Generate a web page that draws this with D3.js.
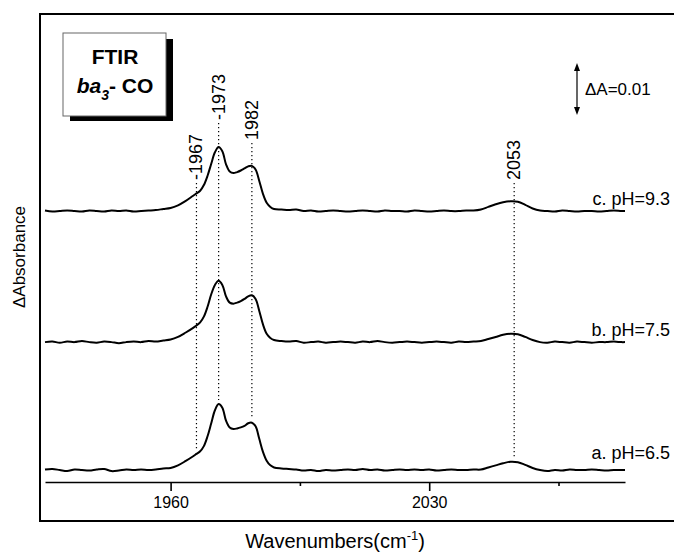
<!DOCTYPE html>
<html><head><meta charset="utf-8">
<script src="https://cdn.jsdelivr.net/npm/d3@7"></script>
<style>body{margin:0;background:#fff}svg{display:block}text{font-family:"Liberation Sans",Arial,sans-serif;fill:#000}</style>
</head><body><svg id="c" width="674" height="553"></svg>
<script>
// ---- data ----
const wavenumbers = [1926,1928,1930,1932,1934,1936,1938,1940,1942,1944,1946,1948,1950,1952,1954,1956,1958,1960,1962,1964,1966,1967,1968,1969,1970,1971,1972,1973,1974,1975,1976,1977,1978,1979,1980,1981,1982,1983,1984,1985,1986,1987,1988,1990,1992,1994,1996,1998,2000,2002,2004,2006,2008,2010,2012,2014,2016,2018,2020,2022,2024,2026,2028,2030,2032,2034,2036,2038,2040,2042,2044,2046,2048,2050,2052,2054,2056,2058,2060,2062,2064,2066,2068,2070,2072,2074,2076,2078,2080,2082,2083];
// absorbance change (x0.001) relative to each trace's baseline
const specA = [0.1,0.2,0.0,-0.2,0.1,0.0,-0.1,0.1,0.2,-0.2,-0.1,0.1,0.0,0.1,0.0,0.1,0.3,0.4,0.9,1.7,2.6,3.1,3.6,4.6,6.5,9.0,11.5,12.7,12.0,9.5,8.2,7.9,8.0,8.2,8.5,9.0,9.1,8.4,6.0,3.5,1.8,0.9,0.5,0.3,0.2,0.1,-0.1,0.0,-0.2,0.0,-0.1,0.0,0.1,0.0,0.2,0.0,0.1,-0.1,0.0,0.1,0.0,0.1,0.0,0.1,-0.1,0.0,0.1,0.0,0.0,0.1,0.1,0.5,0.9,1.3,1.6,1.5,1.0,0.4,0.0,-0.2,0.0,-0.1,0.1,0.0,0.0,0.1,0.0,-0.1,0.0,0.0,0.0];
const specB = [0.0,0.1,-0.1,0.1,0.0,0.2,0.0,-0.1,0.1,0.0,-0.2,0.0,0.1,0.0,0.2,0.1,0.3,0.5,1.0,1.8,2.7,3.2,3.8,4.9,6.8,9.2,11.0,11.8,11.0,8.8,7.6,7.4,7.6,7.9,8.3,8.8,9.0,8.3,6.0,3.4,1.6,0.8,0.4,0.2,0.1,0.2,-0.1,0.0,0.1,-0.1,0.0,0.1,0.0,-0.1,0.1,0.0,0.2,0.0,-0.1,0.0,0.1,0.0,-0.1,0.0,0.1,0.0,-0.1,0.1,0.0,0.1,0.2,0.6,1.0,1.4,1.6,1.5,1.0,0.4,0.0,-0.1,0.1,0.0,-0.1,0.1,0.0,-0.1,0.0,0.0,0.1,0.0,0.0];
const specC = [0.1,-0.1,0.0,0.1,0.0,-0.1,0.1,0.0,-0.1,0.1,0.0,0.1,-0.1,0.0,0.1,0.2,0.4,0.6,1.1,1.9,2.9,3.4,3.9,5.0,6.8,9.1,11.3,12.3,11.5,9.0,7.6,7.3,7.5,7.8,8.2,8.6,8.7,8.0,5.8,3.3,1.6,0.8,0.4,0.3,0.2,0.3,0.0,0.1,-0.1,0.0,0.1,0.0,-0.1,0.0,0.1,0.0,-0.1,0.1,0.0,0.0,-0.1,0.1,0.0,-0.1,0.0,0.1,0.0,0.0,0.1,0.1,0.3,0.8,1.3,1.7,1.9,1.8,1.2,0.5,0.1,0.0,-0.1,0.1,0.0,-0.1,0.0,0.0,-0.1,0.0,0.1,0.0,0.0];
const traceNames = ["a. pH=6.5","b. pH=7.5","c. pH=9.3"];
const traceOffsets = [0.0023,0.0269,0.0521];
const peakMarks = [1967,1973,1982,2053];
const peakLabels = ["-1967","-1973","1982","2053"];
const tickValues = [1960,1995,2030,2065];
const tickLabels = ["1960","","2030",""];
const scaleBarValue = 0.01;

// ---- layout ----
const svg = d3.select("#c");
const x = d3.scaleLinear().domain([1926,2083]).range([45,625]);
const y = d3.scaleLinear().domain([0,0.09]).range([482,14]);

// frame
svg.append("rect").attr("x",40).attr("y",14).attr("width",660).attr("height",507)
  .attr("fill","none").attr("stroke","#000").attr("stroke-width",2);

// axis
const ax = svg.append("g").attr("transform","translate(0,482)")
  .call(d3.axisBottom(x).tickValues(tickValues).tickFormat((d,i)=>tickLabels[i]).tickSizeInner(9).tickSizeOuter(0).tickPadding(6));
ax.select(".domain").attr("stroke-width",1.6);
ax.selectAll(".tick line").attr("stroke-width",1.6).attr("y2",(d,i)=>tickLabels[i]?9:4);
ax.selectAll(".tick text").attr("font-size",16).attr("font-family","Liberation Sans, Arial, sans-serif");

// axis titles
const xt = svg.append("text").attr("x",335).attr("y",548).attr("text-anchor","middle").attr("font-size",20);
xt.append("tspan").text("Wavenumbers(cm");
xt.append("tspan").attr("font-size",13).attr("dy",-8).text("-1");
xt.append("tspan").attr("dy",8).text(")");
svg.append("text").attr("transform","translate(25,257) rotate(-90)").attr("text-anchor","middle").attr("font-size",17).text("\u0394Absorbance");

// spectra
const specs = [specA,specB,specC];
const line = d3.line().curve(d3.curveCatmullRom.alpha(0.5));
specs.forEach((s,k)=>{
  const pts = wavenumbers.map((w,i)=>[x(w), y(traceOffsets[k]+s[i]/1000)]);
  svg.append("path").attr("d",line(pts)).attr("fill","none").attr("stroke","#000").attr("stroke-width",2);
});

// trace labels
const labelGap = [11,6,6];
traceNames.forEach((n,k)=>{
  svg.append("text").attr("x",670).attr("y",y(traceOffsets[k])-labelGap[k]).attr("text-anchor","end").attr("font-size",18).text(n);
});

// dotted peak lines and labels
const labelBottom = [180,120,140,180];
peakMarks.forEach((w,i)=>{
  const idx = wavenumbers.indexOf(w) >= 0 ? wavenumbers.indexOf(w) : d3.bisectLeft(wavenumbers,w);
  const yEnd = y(traceOffsets[0]+specA[idx]/1000) - 4;
  svg.append("line").attr("x1",x(w)).attr("x2",x(w)).attr("y1",labelBottom[i]+3).attr("y2",yEnd)
    .attr("stroke","#000").attr("stroke-width",1.2).attr("stroke-dasharray","1.2,2.8");
  svg.append("text").attr("transform",`translate(${x(w)+6},${labelBottom[i]}) rotate(-90)`)
    .attr("font-size",18).text(peakLabels[i]);
});

// scale bar
const sbX = 577, sbTop = 63;
const sbBot = sbTop + (y(0)-y(scaleBarValue));
svg.append("line").attr("x1",sbX).attr("x2",sbX).attr("y1",sbTop+4).attr("y2",sbBot-4).attr("stroke","#000").attr("stroke-width",1.2);
svg.append("path").attr("d",`M${sbX},${sbTop} L${sbX-3},${sbTop+8} L${sbX+3},${sbTop+8}Z`).attr("fill","#000");
svg.append("path").attr("d",`M${sbX},${sbBot} L${sbX-3},${sbBot-8} L${sbX+3},${sbBot-8}Z`).attr("fill","#000");
svg.append("text").attr("x",585).attr("y",(sbTop+sbBot)/2+6).attr("font-size",17).text("\u0394A=0.01");

// title box
svg.append("rect").attr("x",70).attr("y",39).attr("width",103).attr("height",82).attr("fill","#000");
svg.append("rect").attr("x",63).attr("y",33).attr("width",103).attr("height",83).attr("fill","#fff").attr("stroke","#666").attr("stroke-width",1);
svg.append("text").attr("x",115).attr("y",64).attr("text-anchor","middle").attr("font-size",21).attr("font-weight","bold").text("FTIR");
const t2 = svg.append("text").attr("x",115).attr("y",93).attr("text-anchor","middle").attr("font-size",21).attr("font-weight","bold");
t2.append("tspan").attr("font-style","italic").text("ba");
t2.append("tspan").attr("font-style","italic").attr("font-size",14).attr("dy",7).text("3");
t2.append("tspan").attr("dy",-7).text("- CO");
</script></body></html>
